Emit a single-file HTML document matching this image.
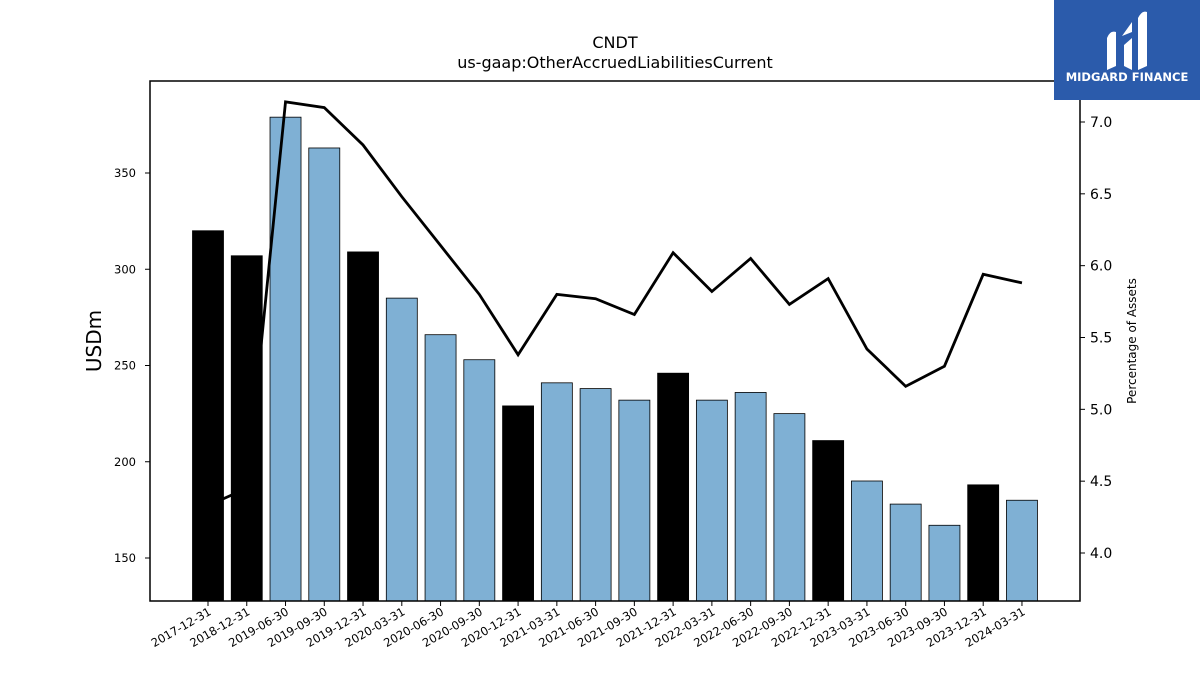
<!DOCTYPE html>
<html><head><meta charset="utf-8"><style>
body{margin:0;background:#fff;font-family:"Liberation Sans","DejaVu Sans",sans-serif}
</style></head><body>
<svg id="chart" width="1200" height="675" xmlns="http://www.w3.org/2000/svg" font-family="DejaVu Sans, Liberation Sans, sans-serif">
<rect width="1200" height="675" fill="#fff"/>
<text x="615" y="48" text-anchor="middle" font-size="16">CNDT</text>
<text x="615" y="68" text-anchor="middle" font-size="16">us-gaap:OtherAccruedLiabilitiesCurrent</text>
<g id="bars"></g><g id="line"></g>
<rect x="150" y="81" width="930" height="520" fill="none" stroke="#000" stroke-width="1.5"/>
<g id="yl"></g><g id="yr"></g><g id="xt"></g>
<text transform="translate(101,341) rotate(-90)" text-anchor="middle" font-size="20">USDm</text>
<text transform="translate(1136,341) rotate(-90)" text-anchor="middle" font-size="12">Percentage of Assets</text>
<g>
<rect x="1054" y="0" width="146" height="100" fill="#2b5bab"/>
<path d="M1107 70 V38 Q1110 30 1116 32 V66 Z M1124 66 V45 L1132 38 V70 Z M1138 70 V18 Q1142 10 1147 12 V66 Z M1122 36 L1132 22 V32 Z" fill="#fff"/>
<text x="1127" y="81" text-anchor="middle" font-size="11.5" font-weight="bold" fill="#fff">MIDGARD FINANCE</text>
</g>
</svg>
<script>
const categories=["2017-12-31","2018-12-31","2019-06-30","2019-09-30","2019-12-31","2020-03-31","2020-06-30","2020-09-30","2020-12-31","2021-03-31","2021-06-30","2021-09-30","2021-12-31","2022-03-31","2022-06-30","2022-09-30","2022-12-31","2023-03-31","2023-06-30","2023-09-30","2023-12-31","2024-03-31"];
const values=[320,307,379,363,309,285,266,253,229,241,238,232,246,232,236,225,211,190,178,167,188,180];
const pct=[4.33,4.45,7.14,7.10,6.84,6.48,6.14,5.80,5.38,5.80,5.77,5.66,6.09,5.82,6.05,5.73,5.91,5.42,5.16,5.30,5.94,5.88];
const leftTicks=[150,200,250,300,350];
const rightTicks=[4.0,4.5,5.0,5.5,6.0,6.5,7.0];
const NS="http://www.w3.org/2000/svg";
const yL=v=>558-(v-150)*1.925;
const yR=v=>553-(v-4.0)*143.67;
const xC=i=>208+i*38.76;
function mk(t,a,p){const e=document.createElementNS(NS,t);for(const k in a)e.setAttribute(k,a[k]);document.getElementById(p).appendChild(e);return e;}
values.forEach((v,i)=>{const black=categories[i].endsWith("12-31");
const r=mk("rect",{x:xC(i)-15.5,y:yL(v),width:31,height:601-yL(v),fill:black?"#000":"#7fb0d4",stroke:"#000","stroke-width":0.8},"bars");


const tx=mk("text",{transform:`translate(${xC(i)+4},${614}) rotate(-30)`,"text-anchor":"end","font-size":"11.5"},"xt");tx.textContent=categories[i];


mk("line",{x1:xC(i),x2:xC(i),y1:601,y2:606,stroke:"#000"},"xt");});
const pl=mk("polyline",{points:pct.map((v,i)=>xC(i)+","+yR(v)).join(" "),fill:"none",stroke:"#000","stroke-width":2.8},"line");


leftTicks.forEach(v=>{mk("line",{x1:145,x2:150,y1:yL(v),y2:yL(v),stroke:"#000"},"yl");
const t=mk("text",{x:136,y:yL(v)+4,"text-anchor":"end","font-size":"11.5"},"yl");t.textContent=v;

});
rightTicks.forEach(v=>{mk("line",{x1:1080,x2:1085,y1:yR(v),y2:yR(v),stroke:"#000"},"yr");
const t=mk("text",{x:1090,y:yR(v)+5,"font-size":"14"},"yr");t.textContent=v.toFixed(1);

});
</script>
</body></html>
